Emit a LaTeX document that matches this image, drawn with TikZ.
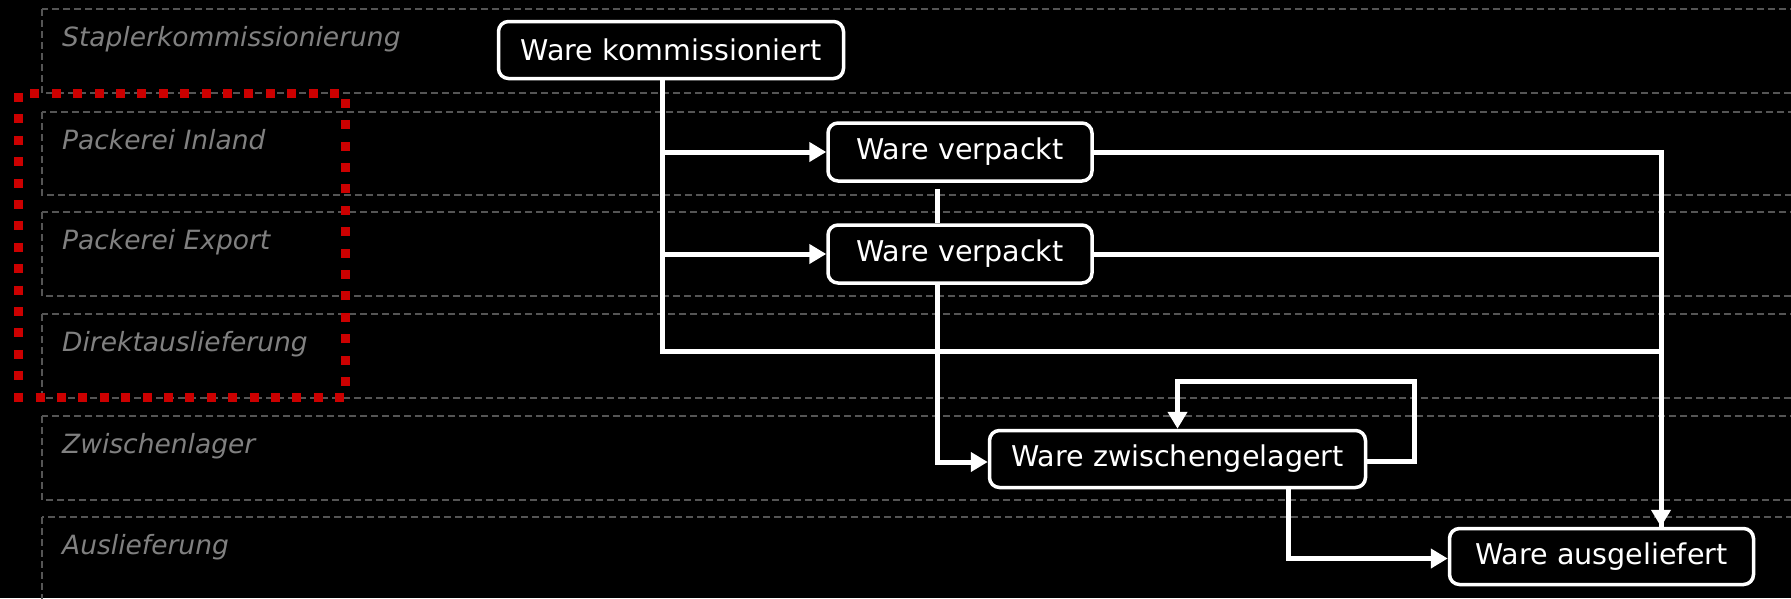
\documentclass[tikz,border=0pt]{standalone}
\usepackage{fontspec}
\setmainfont{DejaVu Sans}
\usetikzlibrary{arrows.meta,calc}
\definecolor{lanegray}{RGB}{85,85,85}
\definecolor{labelgray}{RGB}{128,128,128}
\definecolor{hired}{RGB}{204,0,0}
\begin{document}
\begin{tikzpicture}[x=1pt,y=-1pt,
  lane/.style={draw=lanegray, line width=2pt, dash pattern=on 7pt off 4pt},
  lanelabel/.style={anchor=base west, text=labelgray, font=\fontsize{26.5}{30}\selectfont\itshape, inner sep=0pt},
  state/.style={draw=white, line width=3.5pt, rounded corners=10pt, fill=black, text=white, font=\fontsize{28.6}{32}\selectfont, inner sep=0pt},
  conn/.style={draw=white, line width=5pt},
  arr/.style={-{Triangle[length=17pt,width=19pt]}},
  hilite/.style={draw=hired, line width=9pt, dash pattern=on 9pt off 12.4pt}
]
\useasboundingbox (0,0) rectangle (1791,598);
\clip (0,0) rectangle (1791,598);
\fill[black] (0,0) rectangle (1791,598);

% swimlanes
\draw[lane] (42,9) rectangle (1820,93);
\draw[lane] (42,112) rectangle (1820,195);
\draw[lane] (42,212) rectangle (1820,296);
\draw[lane] (42,314) rectangle (1820,398);
\draw[lane] (42,416) rectangle (1820,500);
\draw[lane] (42,517) rectangle (1820,610);

\node[lanelabel] (l1) at (62,46) {Staplerkommissionierung};
\node[lanelabel] (l2) at (62,149) {Packerei Inland};
\node[lanelabel] (l3) at (62,249) {Packerei Export};
\node[lanelabel] (l4) at (62,351) {Direktauslieferung};
\node[lanelabel] (l5) at (62,453) {Zwischenlager};
\node[lanelabel] (l6) at (62,554) {Auslieferung};

% highlight
\draw[hilite] (18.5,93) rectangle (345.5,397);

% states
\node[state, minimum width=345pt, minimum height=57pt] (wk) at (671,50) {Ware kommissioniert};
\node[state, minimum width=264pt, minimum height=58pt] (v1) at (960,152) {Ware verpackt};
\node[state, minimum width=264pt, minimum height=58pt] (v2) at (960,254) {Ware verpackt};
\node[state, minimum width=376pt, minimum height=57pt] (wz) at (1177.5,459) {Ware zwischengelagert};
\node[state, minimum width=304pt, minimum height=56pt] (wa) at (1601.5,556.5) {Ware ausgeliefert};

\coordinate (dj) at (1661,351);

% connectors
\draw[conn] ([xshift=-9pt]wk.south) |- (dj);
\draw[conn,arr] ([xshift=-9pt]wk.south) |- (v1.west);
\draw[conn,arr] ([xshift=-9pt]wk.south) |- (v2.west);
\draw[conn,arr] (v1.east) -| ([xshift=59.5pt]wa.north);
\draw[conn] (v2.east) -| ([xshift=59.5pt]wa.north);
\draw[conn] ([xshift=-23pt,yshift=-6pt]v1.south) -- ([xshift=-23pt]v2.north);
\draw[conn,arr] ([xshift=-23pt]v2.south) |- ([yshift=-3pt]wz.west);
\draw[conn,arr] ([yshift=-2pt]wz.east) -- ++(47,0) |- ($(wz.north)+(0,-47)$) -- (wz.north);
\draw[conn,arr] ([xshift=110.5pt]wz.south) |- ([yshift=-2pt]wa.west);
\end{tikzpicture}
\end{document}
